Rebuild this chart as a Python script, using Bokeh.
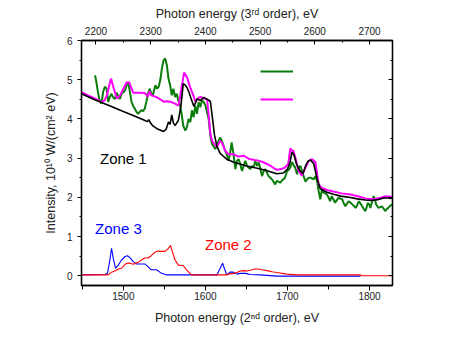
from bokeh.plotting import figure
from bokeh.models import (Range1d, LinearAxis, SingleIntervalTicker, Legend, LegendItem,
                          Label, CustomJSTickFormatter)
from bokeh.embed import file_html
from bokeh.resources import INLINE

# ---------------- data ----------------
zone1_x = [1449, 1465, 1484, 1500, 1515, 1525, 1529, 1531, 1533, 1536, 1541, 1549, 1552, 1555,
           1557, 1559, 1561, 1563, 1567, 1570, 1573, 1575, 1577.5, 1580, 1582, 1584, 1586, 1588,
           1590, 1594, 1598, 1602, 1606, 1608, 1611, 1614, 1618, 1626, 1634, 1642, 1650, 1659,
           1667, 1675, 1687, 1695, 1700, 1703, 1705.5, 1708, 1711, 1715, 1719, 1722, 1725, 1728,
           1732, 1736, 1740, 1748, 1756, 1765, 1775, 1785, 1795, 1802, 1810, 1818, 1828]
zone1_y = [4.64, 4.49, 4.33, 4.19, 4.06, 3.97, 3.93, 3.98, 3.90, 3.82, 3.75, 3.68, 3.73, 3.92,
           3.86, 4.10, 3.90, 3.83, 3.96, 4.30, 4.90, 4.87, 4.80, 4.68, 4.55, 4.43, 4.32, 4.42,
           4.51, 4.47, 4.55, 4.50, 4.45, 4.12, 3.60, 3.30, 3.12, 2.97, 2.90, 2.85, 2.80, 2.76,
           2.72, 2.68, 2.60, 2.62, 2.72, 2.88, 3.15, 3.08, 2.85, 2.68, 2.60, 2.80, 2.92, 2.95,
           2.86, 2.48, 2.22, 2.13, 2.08, 2.03, 2.00, 1.96, 1.93, 1.92, 1.94, 1.99, 1.97]

magenta_x = [1449, 1457, 1465, 1469, 1473, 1477, 1480, 1482, 1485, 1488, 1492, 1496, 1500, 1504,
             1507, 1510, 1512, 1518, 1526, 1530, 1532, 1534, 1540, 1545, 1549, 1553, 1557, 1563,
             1567, 1569, 1571, 1574, 1577.5, 1580, 1582, 1586, 1588, 1590, 1594, 1598, 1602, 1604,
             1606, 1608, 1610, 1614, 1618, 1620, 1624, 1628, 1634, 1640, 1647, 1653, 1660, 1665,
             1670, 1675, 1681, 1687, 1692, 1697, 1701, 1703.5, 1705.5, 1707, 1709.5, 1713.5,
             1717.5, 1722, 1726, 1730, 1734, 1738, 1742, 1749, 1756, 1766, 1777, 1787, 1797,
             1803, 1809, 1814, 1819, 1824, 1828]
magenta_y = [4.68, 4.60, 4.52, 4.48, 4.43, 4.47, 4.60, 4.78, 5.03, 4.80, 4.52, 4.60, 4.77, 4.93,
             4.93, 4.78, 4.67, 4.67, 4.66, 4.57, 4.71, 4.60, 4.56, 4.50, 4.44, 4.45, 4.44, 4.39,
             4.34, 4.55, 4.80, 5.18, 5.07, 4.90, 4.77, 4.56, 4.43, 4.51, 4.56, 4.52, 4.50, 4.10,
             3.62, 3.45, 3.38, 3.28, 3.44, 3.40, 3.19, 3.10, 3.10, 3.04, 3.06, 2.98, 2.95, 2.93,
             2.90, 2.85, 2.78, 2.70, 2.72, 2.76, 2.86, 3.25, 3.18, 3.20, 3.02, 2.68,
             2.55, 2.76, 2.93, 2.97, 2.90, 2.33, 2.24, 2.18, 2.15, 2.10, 2.07, 2.02, 1.96,
             1.95, 1.97, 1.99, 2.03, 2.02, 2.00]

green_x = [1465.5, 1467, 1469, 1471, 1473, 1474, 1475.5, 1477.5, 1479.5, 1481.6, 1483.5, 1485.6,
           1487.5, 1489.7, 1491.7, 1493.8, 1495.8, 1497.8, 1500, 1502, 1504, 1506, 1508, 1510,
           1512, 1514, 1516, 1518, 1520, 1522, 1524, 1526, 1528, 1530, 1532, 1534, 1536, 1537,
           1539, 1541, 1543, 1545, 1547, 1549, 1551, 1553, 1555, 1557, 1559, 1561, 1563, 1565,
           1567, 1569, 1571, 1573, 1575.5, 1577.5, 1579.5, 1581.6, 1583.6, 1585.6, 1587.7,
           1589.7, 1591.7, 1593.8, 1595.8, 1598, 1600, 1602, 1604, 1606, 1608, 1610, 1612, 1614,
           1616, 1618, 1620, 1622, 1624, 1626, 1628, 1630, 1632, 1634, 1636.5, 1638.5, 1640.5,
           1642.5, 1644.6, 1646.6, 1648.6, 1650.7, 1652.7, 1654.7, 1656.7, 1658.8, 1660.8, 1663,
           1665, 1667, 1669, 1671, 1673, 1675, 1677, 1679, 1681, 1683, 1685, 1687, 1689, 1691,
           1693, 1695, 1697, 1699.5, 1701.5, 1703.5, 1705.6, 1707.5, 1709.6, 1711.7, 1713.6,
           1715.7, 1717.8, 1719.7, 1722, 1724, 1726, 1728, 1730, 1732, 1734, 1736, 1738, 1740,
           1742, 1744, 1746, 1748, 1750, 1752, 1754, 1756, 1758, 1760, 1762, 1764, 1766.6,
           1768.6, 1770.6, 1772.6, 1774.6, 1777, 1779, 1781, 1783, 1785, 1787, 1789, 1791, 1793,
           1795, 1796.5, 1798, 1800, 1801, 1803, 1805, 1806.5, 1808, 1810, 1811, 1813, 1815,
           1817, 1819, 1821, 1823, 1825, 1827.5]
green_y = [5.11, 4.95, 4.69, 4.47, 4.39, 4.50, 4.70, 4.82, 4.77, 4.43, 4.56, 4.64,
           4.55, 4.51, 4.67, 4.58, 4.51, 4.64, 4.68, 4.73, 4.86, 4.94, 4.69, 4.43,
           4.33, 4.26, 4.18, 4.13, 4.18, 4.22, 4.20, 4.26, 4.43, 4.64, 4.77, 4.66, 4.60, 4.69,
           4.86, 4.77, 4.82, 4.99, 5.29, 5.50, 5.54, 5.37, 5.03, 4.86, 4.60, 4.77, 4.56, 4.64,
           4.47, 4.34, 4.13, 3.83, 3.70, 3.79, 4.00, 3.92, 4.22, 4.04, 4.34,
           4.13, 4.43, 4.30, 4.47, 4.43, 4.34, 4.17, 4.00, 3.57, 3.36, 3.30, 3.23, 3.30,
           3.44, 3.53, 3.44, 3.32, 3.19, 3.10, 2.93, 3.10, 3.40, 3.14, 2.72, 2.93, 2.97,
           2.85, 2.67, 2.80, 2.93, 2.80, 2.76, 2.72, 2.80, 2.76, 2.93, 2.80,
           2.89, 2.72, 2.54, 2.67, 2.72, 2.63, 2.54, 2.50, 2.46, 2.40, 2.33, 2.42, 2.40, 2.37,
           2.42, 2.46, 2.50, 2.67, 2.70, 2.76, 2.90, 2.82, 2.75, 2.59, 2.75,
           2.80, 2.67, 2.54, 2.40, 2.46, 2.50, 2.50, 2.48, 2.46, 2.54, 2.42, 2.16, 1.95,
           2.20, 2.12, 2.10, 2.07, 2.00, 1.90, 2.03, 1.95, 1.86, 1.92, 1.99, 1.97, 1.95,
           1.85, 1.77, 1.84, 1.90, 1.86, 1.82, 1.78, 1.73, 1.80, 1.90, 1.84, 1.77, 1.70,
           1.65, 1.75, 1.86, 1.80, 1.73, 1.88, 2.03, 1.95, 1.82, 1.76, 1.73, 1.75, 1.77,
           1.72, 1.65, 1.70, 1.73, 1.78, 1.82]

zone3_x = [1449, 1477.5, 1480.7, 1483.6, 1485.6, 1487.7, 1490.5, 1493.8, 1497.8, 1502, 1505, 1508,
           1512, 1516, 1526, 1530, 1534, 1540.5, 1546.6, 1552.7, 1614, 1618, 1621, 1623, 1626,
           1630, 1634, 1638.5, 1642.5, 1648.6, 1654.7, 1667, 1687, 1789]
zone3_y = [0.02, 0.03, 0.06, 0.40, 0.70, 0.44, 0.19, 0.27, 0.40, 0.49, 0.51, 0.46,
           0.36, 0.30, 0.30, 0.23, 0.15, 0.15, 0.06, 0.02, 0.02, 0.19, 0.32, 0.19, 0.02,
           0.09, 0.09, 0.04, 0.06, 0.06, 0.03, 0.02, -0.01, -0.01]

zone2_x = [1449, 1481.6, 1485.6, 1489.7, 1493.8, 1497.8, 1502, 1505, 1508, 1512, 1518, 1522, 1526,
           1530, 1534, 1538.5, 1542.5, 1546.6, 1550.7, 1554.7, 1557.5, 1559.6, 1563, 1567, 1573,
           1577, 1583, 1626, 1628, 1634, 1638.5, 1642.5, 1646.6, 1650.7, 1657, 1661, 1665, 1669,
           1675, 1681, 1687, 1699.5, 1711.7, 1789, 1791, 1828]
zone2_y = [0.02, 0.02, 0.09, 0.12, 0.17, 0.19, 0.29, 0.32, 0.32, 0.29, 0.34, 0.40, 0.45,
           0.45, 0.51, 0.60, 0.63, 0.62, 0.62, 0.69, 0.77, 0.62, 0.40, 0.27, 0.26,
           0.15, 0.02, 0.02, 0.04, 0.06, 0.08, 0.12, 0.13, 0.12, 0.15, 0.17, 0.17, 0.15,
           0.13, 0.10, 0.08, 0.04, 0.02, 0.02, 0.0, 0.0]

zone_labels = ["Zone  1", "Zone  3", "Zone  2"]
zone_label_x = [1471.5, 1465.5, 1599.5]
zone_label_y = [3.0, 1.2, 0.79]
zone_label_colors = ["black", "#0000FF", "#FF0000"]

x_start, x_end = 1449, 1828
y_start, y_end = -0.25, 6
order_ratio = 1.5  # 3rd order / 2nd order energy

FONT = "Liberation Sans"
TXT = "#222222"

p = figure(width=451, height=337, output_backend="svg", toolbar_location=None,
           x_range=Range1d(x_start, x_end), y_range=Range1d(y_start, y_end),
           min_border_left=81, min_border_right=59, min_border_top=40, min_border_bottom=52,
           x_axis_location=None, y_axis_location=None)
p.xgrid.grid_line_color = None
p.ygrid.grid_line_color = None
p.outline_line_color = "black"
p.outline_line_width = 1.3
p.background_fill_color = "white"
p.border_fill_color = "white"

p.extra_x_ranges = {"top": Range1d(x_start * order_ratio, x_end * order_ratio)}


def style(ax, label_size="10px"):
    ax.axis_line_color = "black"
    ax.axis_line_width = 1.3
    ax.major_tick_line_color = "black"
    ax.minor_tick_line_color = "black"
    ax.major_label_text_font = FONT
    ax.major_label_text_font_size = label_size
    ax.major_label_text_color = TXT
    ax.axis_label_text_font = FONT
    ax.axis_label_text_font_size = "12.5px"
    ax.axis_label_text_font_style = "normal"
    ax.axis_label_text_color = TXT


bottom = LinearAxis(ticker=SingleIntervalTicker(interval=100, num_minor_ticks=2),
                    axis_label="Photon energy (2\u207f\u1d48 order), eV")
style(bottom)
bottom.major_tick_out = 5
bottom.major_tick_in = 0
bottom.minor_tick_out = 4
bottom.minor_tick_in = 0
bottom.major_label_standoff = 1
bottom.axis_label_standoff = 8
p.add_layout(bottom, "below")

top = LinearAxis(x_range_name="top", ticker=SingleIntervalTicker(interval=100, num_minor_ticks=2),
                 axis_label="Photon energy (3\u02b3\u1d48 order), eV")
style(top)
top.major_tick_out = 0
top.major_tick_in = 4
top.minor_tick_out = 0
top.minor_tick_in = 2
top.major_label_standoff = 6
top.axis_label_standoff = 3
p.add_layout(top, "above")

left = LinearAxis(ticker=SingleIntervalTicker(interval=1, num_minor_ticks=2),
                  axis_label="Intensity, 10\u00b9\u2070 W/(cm\u00b2 eV)")
style(left)
left.major_tick_out = 4
left.major_tick_in = 0
left.minor_tick_out = 2
left.minor_tick_in = 0
left.major_label_standoff = 5
left.axis_label_standoff = 6
p.add_layout(left, "left")

right = LinearAxis(ticker=SingleIntervalTicker(interval=1, num_minor_ticks=2),
                   formatter=CustomJSTickFormatter(code="return ''"))
style(right)
right.major_tick_out = 0
right.major_tick_in = 4
right.minor_tick_out = 0
right.minor_tick_in = 2
p.add_layout(right, "right")

g = p.line(green_x, green_y, line_color="#0A7D0A", line_width=2)
m = p.line(magenta_x, magenta_y, line_color="#FF00FF", line_width=2)
k = p.line(zone1_x, zone1_y, line_color="black", line_width=1.6)
b = p.line(zone3_x, zone3_y, line_color="#0000FF", line_width=1.1)
r = p.line(zone2_x, zone2_y, line_color="#FF0000", line_width=1.1)

for t, lx, ly, c in zip(zone_labels, zone_label_x, zone_label_y, zone_label_colors):
    p.add_layout(Label(x=lx, y=ly, text=t, text_color=c, text_font=FONT,
                       text_font_size="15px", text_baseline="middle", text_align="left"))

legend = Legend(items=[LegendItem(label=" ", renderers=[g]),
                       LegendItem(label=" ", renderers=[m])],
                location=(179, 176), orientation="vertical",
                glyph_width=33, glyph_height=20, label_height=20, label_width=5,
                spacing=8, padding=0, margin=0, label_standoff=0,
                border_line_alpha=0, background_fill_alpha=0,
                label_text_font_size="8px")
p.add_layout(legend)

open("out.html", "w").write(file_html(p, INLINE))
